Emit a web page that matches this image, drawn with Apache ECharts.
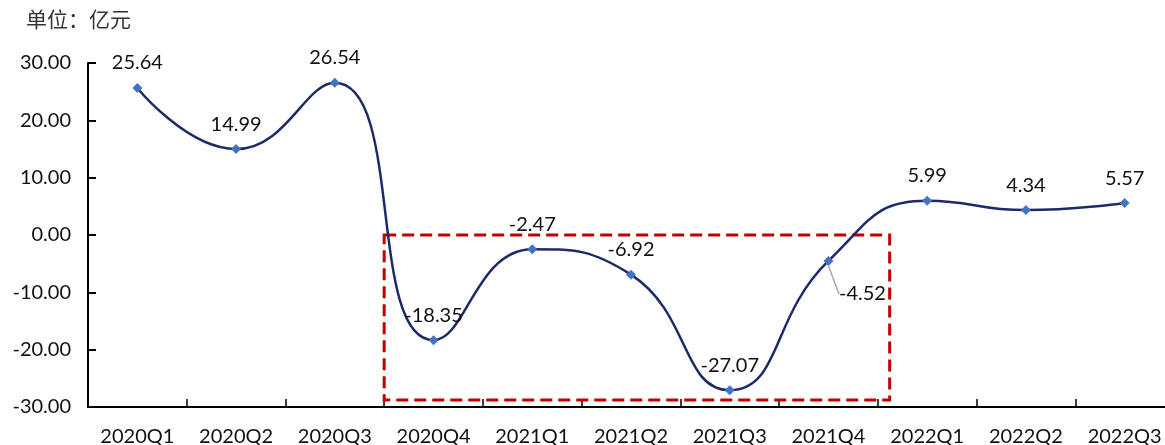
<!DOCTYPE html>
<html>
<head>
<meta charset="utf-8">
<script src="https://cdn.jsdelivr.net/npm/echarts@6/dist/echarts.min.js"></script>
<style>
  html, body { margin: 0; padding: 0; background: #fff; }
  #chart { width: 1165px; height: 445px; }
</style>
</head>
<body>
<div id="chart"></div>
<script>
// chart data
const quarters = ['2020Q1', '2020Q2', '2020Q3', '2020Q4', '2021Q1', '2021Q2',
  '2021Q3', '2021Q4', '2022Q1', '2022Q2', '2022Q3'];
const values = [25.64, 14.99, 26.54, -18.35, -2.47, -6.92, -27.07, -4.52, 5.99, 4.34, 5.57];
const yTicks = [-30, 30, 10]; // min, max, interval
// dashed highlight box, in category units (index) and value units
const boxFrom = 2.5;
const boxTo = 7.62;
const boxLow = -28.8;

const font = 'Lato, "Noto Sans CJK SC", sans-serif';
const txt = '#111';
const chart = echarts.init(document.getElementById('chart'));

chart.setOption({
  animation: false,
  title: {
    text: '单位：亿元',
    left: 21,
    top: 4,
    textStyle: { fontFamily: '"Noto Sans CJK SC", sans-serif', fontSize: 21, fontWeight: 'normal', color: '#333' }
  },
  // plot runs a little past the right edge, as in the original
  grid: { left: 88, width: 1086, top: 63, bottom: 38, outerBoundsMode: 'none' },
  xAxis: [{
    type: 'category',
    data: quarters,
    axisLine: { show: false },
    axisTick: { show: false },
    axisLabel: { margin: 20, fontFamily: font, fontSize: 20, color: txt }
  }, {
    type: 'category',
    data: quarters,
    position: 'bottom',
    axisLine: { onZero: true, lineStyle: { color: '#000', width: 2 } },
    axisTick: { show: true, inside: true, length: 8, lineStyle: { color: '#000', width: 1.5 } },
    axisLabel: { show: false }
  }],
  yAxis: {
    type: 'value',
    min: yTicks[0],
    max: yTicks[1],
    interval: yTicks[2],
    splitLine: { show: false },
    axisLine: { show: true, lineStyle: { color: '#000', width: 2 } },
    axisTick: { show: true, inside: true, length: 8, lineStyle: { color: '#000', width: 2 } },
    axisLabel: {
      margin: 17, fontFamily: font, fontSize: 20, color: txt,
      formatter: v => v.toFixed(2)
    }
  },
  series: [{
    type: 'line',
    data: values.map((v, i) => i === 7
      ? { value: v, labelLine: { show: true, lineStyle: { color: '#a6a6a6', width: 1.5 } } }
      : v),
    smooth: 0.5,
    symbol: 'diamond',
    symbolSize: 10,
    lineStyle: { color: '#1c2a6a', width: 2.5 },
    itemStyle: { color: '#4472c4' },
    label: {
      show: true,
      position: 'top',
      distance: 10,
      fontFamily: font,
      fontSize: 20,
      color: txt,
      formatter: p => p.value.toFixed(2)
    },
    labelLayout: p => p.dataIndex === 7 ? { dx: 34, dy: 58 } : {}
  }]
});

// dashed box around the negative stretch
const px0 = chart.convertToPixel({ xAxisIndex: 0 }, 0);
const band = chart.convertToPixel({ xAxisIndex: 0 }, 1) - px0;
const boxL = px0 + band * boxFrom;
const boxR = px0 + band * boxTo;
const boxT = chart.convertToPixel({ yAxisIndex: 0 }, 0);
const boxB = chart.convertToPixel({ yAxisIndex: 0 }, boxLow);
chart.setOption({
  graphic: [{
    type: 'rect',
    z: 1,
    shape: { x: boxL, y: boxT, width: boxR - boxL, height: boxB - boxT },
    style: { fill: 'none', stroke: '#c00000', lineWidth: 3, lineDash: [12, 6] }
  }]
});
</script>
</body>
</html>
